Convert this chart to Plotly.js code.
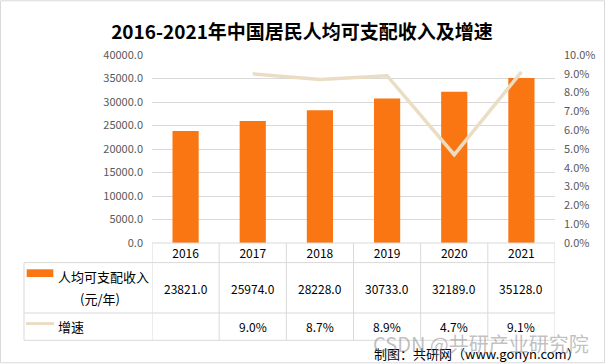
<!DOCTYPE html>
<html>
<head>
<meta charset="utf-8">
<script src="https://cdn.plot.ly/plotly-3.0.1.min.js"></script>
<style>
  html, body { margin: 0; padding: 0; background: #fff; }
  #chart { width: 606px; height: 364px; }
</style>
</head>
<body>
<div id="chart"></div>
<script>
// ---- data ----
const years = ['2016', '2017', '2018', '2019', '2020', '2021'];
const income = [23821.0, 25974.0, 28228.0, 30733.0, 32189.0, 35128.0];
const growth = [null, 9.0, 8.7, 8.9, 4.7, 9.1];
const incomeName = '人均可支配收入';
const incomeUnit = '(元/年)';
const growthName = '增速';
const titleText = '2016-2021年中国居民人均可支配收入及增速';
const sourceText = '制图：共研网（www.gonyn.com）';
const watermarkText = 'CSDN @共研产业研究院';

// ---- layout geometry (pixels) ----
const W = 606, H = 364;
const L = 152, R = 555, T = 54.7, B = 242.7;
const pw = R - L, ph = B - T;
const px = X => (X - L) / pw;
const py = Y => (B - Y) / ph;

const gridC = '#d9d9d9';
const barC = '#F97613';
const lineC = '#EADDC4';
const cjk = '"Noto Sans CJK SC", "Noto Sans", sans-serif';
const tableRowTop = 262.3, tableRowMid = 312.7, tableBottom = 340, tableLeft = 24;

const shapes = [];
function hline(y, x0, x1) {
  shapes.push({type: 'line', xref: 'paper', yref: 'paper', x0: px(x0), x1: px(x1), y0: py(y), y1: py(y),
    line: {color: gridC, width: 1}});
}
function vlineData(xd, y0, y1) {
  shapes.push({type: 'line', xref: 'x', yref: 'paper', x0: xd, x1: xd, y0: py(y0), y1: py(y1),
    line: {color: gridC, width: 1}});
}
// figure border
shapes.push({type: 'rect', xref: 'paper', yref: 'paper', x0: px(0.5), x1: px(W - 1.5), y0: py(0.5), y1: py(H - 1.5),
  line: {color: '#d9d9d9', width: 1}, fillcolor: 'rgba(0,0,0,0)'});
// table lines
hline(B, L, R);
hline(tableRowTop, tableLeft, R);
hline(tableRowMid, tableLeft, R);
hline(tableBottom, tableLeft, R);
for (let k = 0; k <= years.length; k++) vlineData(k - 0.5, B, tableBottom);
shapes.push({type: 'line', xref: 'paper', yref: 'paper', x0: px(tableLeft), x1: px(tableLeft), y0: py(tableRowTop), y1: py(tableBottom),
  line: {color: gridC, width: 1}});
// legend keys
shapes.push({type: 'rect', xref: 'paper', yref: 'paper', x0: px(26.7), x1: px(53.3), y0: py(269), y1: py(276.7),
  line: {width: 0}, fillcolor: barC});
shapes.push({type: 'line', xref: 'paper', yref: 'paper', x0: px(26), x1: px(54), y0: py(323.3), y1: py(323.3),
  line: {color: lineC, width: 3}});

const annotations = [];
const tfont = {family: cjk, size: 12, color: '#000'};
years.forEach((y, i) => {
  annotations.push({xref: 'x', yref: 'paper', x: i, y: py(288.5), text: income[i].toFixed(1), showarrow: false,
    font: tfont, xanchor: 'center', yanchor: 'middle'});
  if (growth[i] !== null) {
    annotations.push({xref: 'x', yref: 'paper', x: i, y: py(326.5), text: growth[i].toFixed(1) + '%', showarrow: false,
      font: tfont, xanchor: 'center', yanchor: 'middle'});
  }
});
annotations.push({xref: 'paper', yref: 'paper', x: px(56), y: py(276.5), text: incomeName, showarrow: false,
  font: {family: cjk, size: 13, color: '#000'}, xanchor: 'left', yanchor: 'middle'});
annotations.push({xref: 'paper', yref: 'paper', x: px(100), y: py(298), text: incomeUnit, showarrow: false,
  font: {family: cjk, size: 13, color: '#000'}, xanchor: 'center', yanchor: 'middle'});
annotations.push({xref: 'paper', yref: 'paper', x: px(56), y: py(326), text: growthName, showarrow: false,
  font: {family: cjk, size: 13, color: '#000'}, xanchor: 'left', yanchor: 'middle'});
annotations.push({xref: 'paper', yref: 'paper', x: px(582), y: py(353), text: sourceText, showarrow: false,
  font: {family: cjk, size: 13, color: '#000'}, xanchor: 'right', yanchor: 'middle'});
annotations.push({xref: 'paper', yref: 'paper', x: px(591), y: py(343), text: watermarkText, showarrow: false,
  font: {family: cjk, size: 20, color: 'rgba(140,140,140,0.55)'}, xanchor: 'right', yanchor: 'middle'});

const data = [
  {type: 'bar', x: years, y: income, name: incomeName, marker: {color: barC}, width: 0.39,
   hoverinfo: 'skip'},
  {type: 'scatter', mode: 'lines', x: years, y: growth, name: growthName, yaxis: 'y2',
   line: {color: lineC, width: 3.5}, connectgaps: false, hoverinfo: 'skip'}
];

const layout = {
  width: W, height: H,
  margin: {l: L, r: W - R, t: T, b: H - B, pad: 0},
  paper_bgcolor: '#fff', plot_bgcolor: '#fff',
  showlegend: false,
  title: {text: '<b>' + titleText + '</b>', x: 302 / W, xref: 'container', xanchor: 'center', y: 1 - 32 / H, yanchor: 'middle',
    font: {family: cjk, size: 19, color: '#000'}},
  xaxis: {type: 'category', range: [-0.5, 5.5], showgrid: false, zeroline: false, showline: false,
    ticks: '', tickfont: {family: cjk, size: 12, color: '#000'}, ticklabelstandoff: 2},
  yaxis: {range: [0, 40000], dtick: 5000, tickformat: '.1f', showgrid: true, gridcolor: gridC, gridwidth: 1,
    zeroline: false, showline: false, ticks: '', tickfont: {family: cjk, size: 11, color: '#595959'},
    ticklabelstandoff: 8},
  yaxis2: {overlaying: 'y', side: 'right', range: [0, 10], dtick: 1, tickformat: '.1f', ticksuffix: '%',
    showgrid: false, zeroline: false, showline: false, ticks: '',
    tickfont: {family: cjk, size: 11, color: '#595959'}, ticklabelstandoff: 8},
  shapes: shapes,
  annotations: annotations
};

Plotly.newPlot('chart', data, layout, {displayModeBar: false, staticPlot: true});
</script>
</body>
</html>
